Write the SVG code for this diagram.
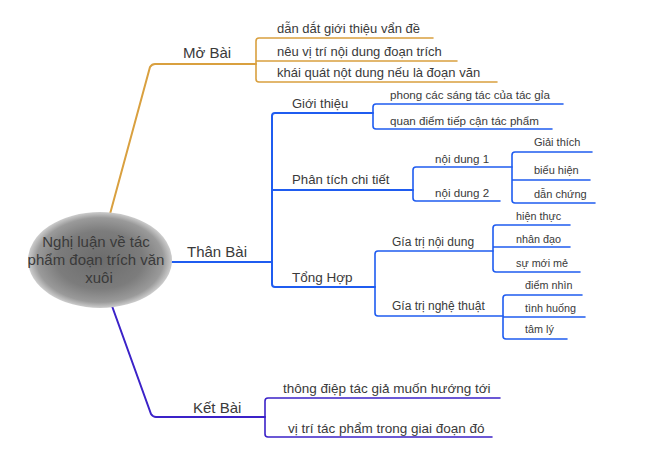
<svg xmlns="http://www.w3.org/2000/svg" width="650" height="449" viewBox="0 0 650 449">
<defs>
<radialGradient id="blob" cx="50%" cy="50%" r="50%">
<stop offset="0" stop-color="#6c6c6c"/>
<stop offset="0.6" stop-color="#7c7c7c"/>
<stop offset="0.88" stop-color="#9a9a9a"/>
<stop offset="1" stop-color="#cdcdcd"/>
</radialGradient>
</defs>
<style>
.t{font-family:"Liberation Sans",Arial,sans-serif;fill:#3a3a3a}
.c{fill:none;stroke-linecap:round;stroke-linejoin:round}
.o{stroke:#d9a03f}
.b{stroke:#1f5cf0}
.k{stroke:#3b22c8}
.w2{stroke-width:2}
.w15{stroke-width:1.6}
</style>
<rect width="650" height="449" fill="#ffffff"/>
<g id="connectors">
<path class="c o w2" d="M110 214 L150 67 Q152 64 155 64 L256 64"/>
<path class="c o w15" d="M433 38 L259 38 Q256 38 256 41 L256 79 Q256 82 259 82 L497 82 M256 61 L457 61"/>
<path class="c b w2" d="M172 262 L272 262 M373 113 L275 113 Q272 113 272 116 L272 284 Q272 287 275 287 L375 287 M272 190 L413 190"/>
<path class="c b w15" d="M563 104 L376 104 Q373 104 373 107 L373 126 Q373 129 376 129 L552 129"/>
<path class="c b w15" d="M512 167 L416 167 Q413 167 413 170 L413 198 Q413 201 416 201 L500 201"/>
<path class="c b w15" d="M592 152 L515 152 Q512 152 512 155 L512 200 Q512 203 515 203 L595 203 M512 180 L590 180"/>
<path class="c b w15" d="M493 251 L378 251 Q375 251 375 254 L375 313 Q375 316 378 316 L503 316"/>
<path class="c b w15" d="M570 225 L496 225 Q493 225 493 228 L493 269 Q493 272 496 272 L580 272 M493 247 L570 247"/>
<path class="c b w15" d="M582 295 L506 295 Q503 295 503 298 L503 336 Q503 339 506 339 L567 339 M503 317 L585 317"/>
<path class="c k w2" d="M112 306 L151 414 Q153 417 156 417 L265 417"/>
<path class="c k w15" d="M500 398 L268 398 Q265 398 265 401 L265 434 Q265 437 268 437 L492 437"/>
</g>
<g id="root">
<ellipse cx="100" cy="260" rx="72" ry="48" fill="url(#blob)"/>
<text class="t" font-size="15" text-anchor="middle" x="96" y="247">Nghị luận về tác</text>
<text class="t" font-size="15" text-anchor="middle" x="96" y="265">phẩm đoạn trích văn</text>
<text class="t" font-size="15" text-anchor="middle" x="99" y="283">xuôi</text>
</g>
<g id="mo-bai">
<text class="t" font-size="15" x="183" y="58">Mở Bài</text>
</g>
<g id="mo-bai-1"><text class="t" font-size="13" x="277" y="33">dẫn dắt giới thiệu vẩn đề</text></g>
<g id="mo-bai-2"><text class="t" font-size="13" x="277" y="56">nêu vị trí nội dung đoạn trích</text></g>
<g id="mo-bai-3"><text class="t" font-size="13" x="277" y="77">khái quát nột dung nếu là đoạn văn</text></g>
<g id="than-bai"><text class="t" font-size="15" x="187" y="257">Thân Bài</text></g>
<g id="gioi-thieu"><text class="t" font-size="13" x="292" y="108">Giới thiệu</text></g>
<g id="gt-1"><text class="t" font-size="11.6" x="390" y="99">phong các sáng tác của tác gỉa</text></g>
<g id="gt-2"><text class="t" font-size="11.6" x="390" y="125">quan điểm tiếp cận tác phẩm</text></g>
<g id="phan-tich"><text class="t" font-size="13.2" x="292" y="184">Phân tích chi tiết</text></g>
<g id="noi-dung-1"><text class="t" font-size="11.6" x="435" y="163">nội dung 1</text></g>
<g id="noi-dung-2"><text class="t" font-size="11.6" x="435" y="197">nội dung 2</text></g>
<g id="giai-thich"><text class="t" font-size="11" x="534" y="146">Giải thích</text></g>
<g id="bieu-hien"><text class="t" font-size="11" x="534" y="174">biểu hiện</text></g>
<g id="dan-chung"><text class="t" font-size="11" x="534" y="198">dẫn chứng</text></g>
<g id="tong-hop"><text class="t" font-size="13.5" x="292" y="282">Tổng Hợp</text></g>
<g id="gtnd"><text class="t" font-size="12" x="392" y="246">Gía trị nội dung</text></g>
<g id="gtnt"><text class="t" font-size="12" x="392" y="310">Gía trị nghệ thuật</text></g>
<g id="hien-thuc"><text class="t" font-size="10.8" x="516" y="220">hiện thực</text></g>
<g id="nhan-dao"><text class="t" font-size="10.8" x="516" y="243">nhân đạo</text></g>
<g id="su-moi-me"><text class="t" font-size="10.8" x="516" y="267">sự mới mẻ</text></g>
<g id="diem-nhin"><text class="t" font-size="10.8" x="525" y="289">điểm nhìn</text></g>
<g id="tinh-huong"><text class="t" font-size="10.8" x="525" y="312">tình huống</text></g>
<g id="tam-ly"><text class="t" font-size="10.8" x="525" y="333">tâm lý</text></g>
<g id="ket-bai"><text class="t" font-size="15" x="193" y="413">Kết Bài</text></g>
<g id="kb-1"><text class="t" font-size="13.5" x="283" y="393">thông điệp tác giả muốn hướng tới</text></g>
<g id="kb-2"><text class="t" font-size="13.5" x="288" y="433">vị trí tác phẩm trong giai đoạn đó</text></g>
</svg>
